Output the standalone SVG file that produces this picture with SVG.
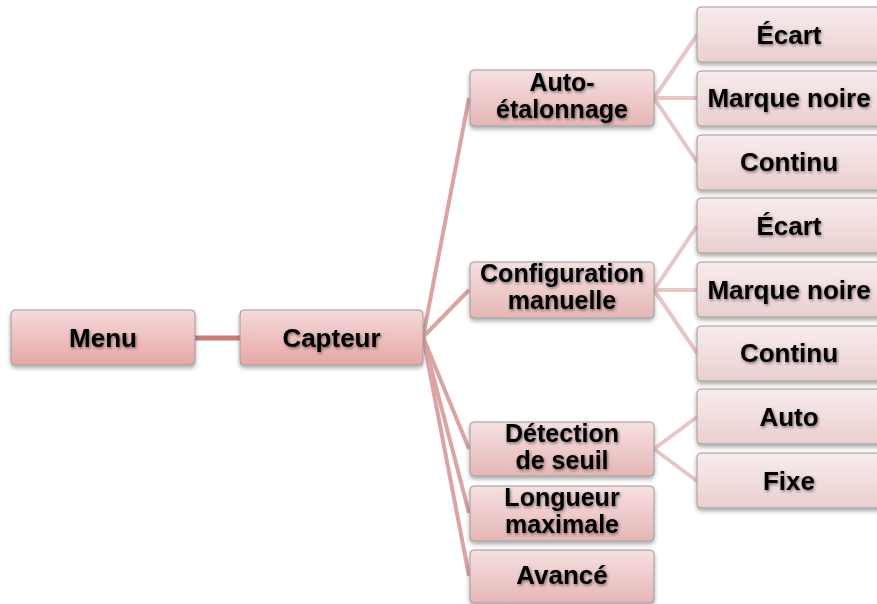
<svg xmlns="http://www.w3.org/2000/svg" width="877" height="604" viewBox="0 0 877 604">
<defs>
<linearGradient id="g1" x1="0" y1="0" x2="0" y2="1"><stop offset="0" stop-color="#f5dada"/><stop offset="1" stop-color="#e7a6a6"/></linearGradient>
<linearGradient id="g2" x1="0" y1="0" x2="0" y2="1"><stop offset="0" stop-color="#f6e0e0"/><stop offset="1" stop-color="#e6b6b6"/></linearGradient>
<linearGradient id="g3" x1="0" y1="0" x2="0" y2="1"><stop offset="0" stop-color="#f8ecec"/><stop offset="1" stop-color="#ebcfcf"/></linearGradient>
<filter id="sh" x="-10%" y="-20%" width="120%" height="150%"><feDropShadow dx="0" dy="2.5" stdDeviation="2" flood-color="#000" flood-opacity="0.35"/></filter>
<filter id="ts" x="-10%" y="-30%" width="120%" height="160%"><feDropShadow dx="1" dy="1.5" stdDeviation="1.5" flood-color="#000" flood-opacity="0.5"/></filter>
</defs>
<style>
.b{stroke:#9c9c9c;stroke-width:1}
.l1{fill:url(#g1)} .l2{fill:url(#g2)} .l3{fill:url(#g3)}
text{font-family:"Liberation Sans",Arial,sans-serif;font-weight:bold;font-size:26px;fill:#000;text-anchor:middle;filter:url(#ts)}
text.t2{font-size:25px}
.c1{stroke:#c97a7a;stroke-width:5;fill:none}
.c2{stroke:#dba4a4;stroke-width:4;fill:none}
.c3{stroke:#e8c6c6;stroke-width:4;fill:none}
</style>
<g id="connectors">
<line class="c1" x1="195" y1="338" x2="240" y2="338"/>
<line class="c2" x1="423" y1="337" x2="469" y2="98"/>
<line class="c2" x1="423" y1="337" x2="469" y2="290"/>
<line class="c2" x1="423" y1="337" x2="469" y2="449"/>
<line class="c2" x1="423" y1="337" x2="469" y2="513"/>
<line class="c2" x1="423" y1="337" x2="469" y2="576"/>
<line class="c3" x1="654" y1="98" x2="697" y2="35"/>
<line class="c3" x1="654" y1="98" x2="697" y2="98"/>
<line class="c3" x1="654" y1="98" x2="697" y2="162"/>
<line class="c3" x1="654" y1="290" x2="697" y2="226"/>
<line class="c3" x1="654" y1="290" x2="697" y2="290"/>
<line class="c3" x1="654" y1="290" x2="697" y2="353"/>
<line class="c3" x1="654" y1="449" x2="697" y2="417"/>
<line class="c3" x1="654" y1="449" x2="697" y2="481"/>
</g>
<g id="menu"><rect class="b l1" x="11" y="310" width="184" height="55" rx="4" filter="url(#sh)"/><text x="103" y="347">Menu</text></g>
<g id="capteur"><rect class="b l1" x="240" y="310" width="183" height="55" rx="4" filter="url(#sh)"/><text x="331.5" y="347">Capteur</text></g>
<g id="auto-etalonnage"><rect class="b l2" x="470" y="70" width="184" height="56" rx="4" filter="url(#sh)"/><text class="t2" x="562" y="91">Auto-</text><text class="t2" x="562" y="118">étalonnage</text></g>
<g id="config-manuelle"><rect class="b l2" x="470" y="262" width="184" height="56" rx="4" filter="url(#sh)"/><text class="t2" x="562" y="282">Configuration</text><text class="t2" x="562" y="309">manuelle</text></g>
<g id="detection-seuil"><rect class="b l2" x="470" y="422" width="184" height="54" rx="4" filter="url(#sh)"/><text class="t2" x="562" y="442">Détection</text><text class="t2" x="562" y="469">de seuil</text></g>
<g id="longueur-max"><rect class="b l2" x="470" y="486" width="184" height="55" rx="4" filter="url(#sh)"/><text class="t2" x="562" y="506">Longueur</text><text class="t2" x="562" y="533">maximale</text></g>
<g id="avance"><rect class="b l2" x="470" y="550" width="184" height="53" rx="4" filter="url(#sh)"/><text x="562" y="584">Avancé</text></g>
<g id="ecart1"><rect class="b l3" x="697" y="7" width="186" height="55" rx="4" filter="url(#sh)"/><text x="789" y="44">Écart</text></g>
<g id="marque1"><rect class="b l3" x="697" y="71" width="186" height="55" rx="4" filter="url(#sh)"/><text x="789" y="107">Marque noire</text></g>
<g id="continu1"><rect class="b l3" x="697" y="135" width="186" height="55" rx="4" filter="url(#sh)"/><text x="789" y="171">Continu</text></g>
<g id="ecart2"><rect class="b l3" x="697" y="198" width="186" height="55" rx="4" filter="url(#sh)"/><text x="789" y="235">Écart</text></g>
<g id="marque2"><rect class="b l3" x="697" y="262" width="186" height="55" rx="4" filter="url(#sh)"/><text x="789" y="299">Marque noire</text></g>
<g id="continu2"><rect class="b l3" x="697" y="326" width="186" height="55" rx="4" filter="url(#sh)"/><text x="789" y="362">Continu</text></g>
<g id="auto"><rect class="b l3" x="697" y="389" width="186" height="55" rx="4" filter="url(#sh)"/><text x="789" y="426">Auto</text></g>
<g id="fixe"><rect class="b l3" x="697" y="453" width="186" height="55" rx="4" filter="url(#sh)"/><text x="789" y="490">Fixe</text></g>
</svg>
